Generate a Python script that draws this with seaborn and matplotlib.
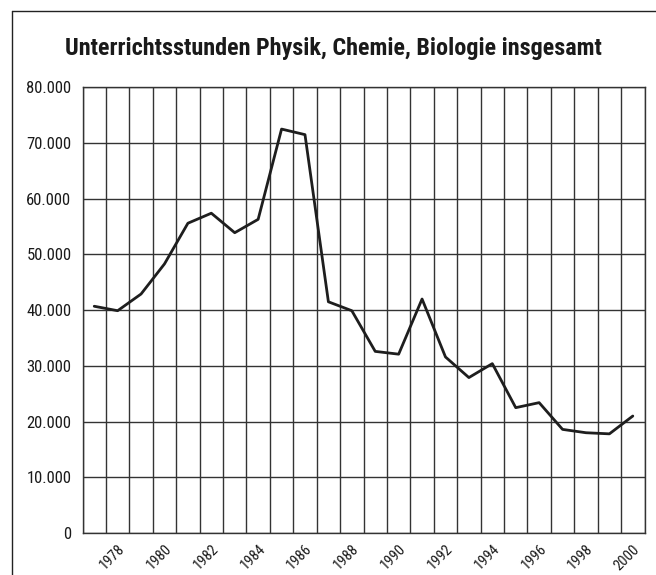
import matplotlib
matplotlib.use("Agg")
import matplotlib.pyplot as plt
import matplotlib.ticker as mticker
from matplotlib import font_manager as fm
from matplotlib.lines import Line2D
import seaborn as sns
import pandas as pd

# Data
years = list(range(1977, 2001))
stunden = [40700, 39900, 42900, 48300, 55600, 57400, 53900, 56300,
           72500, 71500, 41500, 39900, 32600, 32100, 42000, 31600,
           27900, 30400, 22500, 23400, 18600, 18000, 17800, 21000]
label_years = list(range(1978, 2001, 2))
title = "Unterrichtsstunden Physik, Chemie, Biologie insgesamt"

df = pd.DataFrame({"Jahr": years, "Stunden": stunden})

# pick a narrow font if one is installed, else a fairly narrow one
installed = {f.name for f in fm.fontManager.ttflist}
narrow = [f.name for f in fm.fontManager.ttflist
          if f.stretch in ("condensed", "semi-condensed", "extra-condensed")
          or "Narrow" in f.name or "Condensed" in f.name]
candidates = ["Liberation Sans Narrow", "Arial Narrow", "Roboto Condensed",
              "Open Sans Condensed"] + narrow + ["Roboto", "Liberation Sans"]
font = next((c for c in candidates if c in installed), "DejaVu Sans")

sns.set_style("white")
plt.rcParams["font.family"] = [font, "DejaVu Sans"]

fig = plt.figure(figsize=(6.56, 5.75), dpi=100)
ax = fig.add_axes([0.1258, 0.0730, 0.8567, 0.7752])

sns.lineplot(data=df, x="Jahr", y="Stunden", ax=ax, color="#1e1e1e",
             linewidth=2.0, zorder=3)

ax.set_xlim(years[0] - 0.5, years[-1] + 0.5)
ax.set_ylim(0, 80000)

# category boundaries carry the grid and the tick marks
ax.set_xticks([y - 0.5 for y in years] + [years[-1] + 0.5], minor=True)
ax.set_xticks(label_years)
ax.set_xticklabels([str(y) for y in label_years], rotation=45, ha="right",
                   va="top", rotation_mode="anchor", fontsize=10.5,
                   color="#1a1a1a")
ax.tick_params(axis="x", which="major", length=0, pad=6.5)
ax.tick_params(axis="x", which="minor", length=4, width=1, color="#333333",
               direction="out")

ax.set_yticks(range(0, 80001, 10000))
ax.yaxis.set_major_formatter(
    mticker.FuncFormatter(lambda v, p: f"{int(v):,}".replace(",", ".")))
ax.tick_params(axis="y", length=3, width=1, color="#333333", labelsize=12,
               labelcolor="#1a1a1a", pad=5)

ax.grid(True, axis="x", which="minor", color="#333333", linewidth=1.0)
ax.grid(True, axis="y", which="major", color="#333333", linewidth=1.0)
ax.set_axisbelow(True)

for s in ax.spines.values():
    s.set_color("#333333")
    s.set_linewidth(1.0)

ax.set_xlabel("")
ax.set_ylabel("")

t = fig.text(0.509, 0.916, title, ha="center", va="center", fontsize=16,
             fontweight="bold", color="#1a1a1a")
# fit the title to the width it has in the reference (about 535 px)
fig.canvas.draw()
w = t.get_window_extent().width
t.set_fontsize(min(20, 16 * 535 / w))

# outer frame (top and left only, as in the reference)
fig.add_artist(Line2D([0.0178, 0.0178], [0, 0.9814], color="#222222",
                      linewidth=1.0, transform=fig.transFigure))
fig.add_artist(Line2D([0.0178, 1.0], [0.9814, 0.9814], color="#222222",
                      linewidth=1.0, transform=fig.transFigure))

fig.savefig("out.png", dpi=100)
